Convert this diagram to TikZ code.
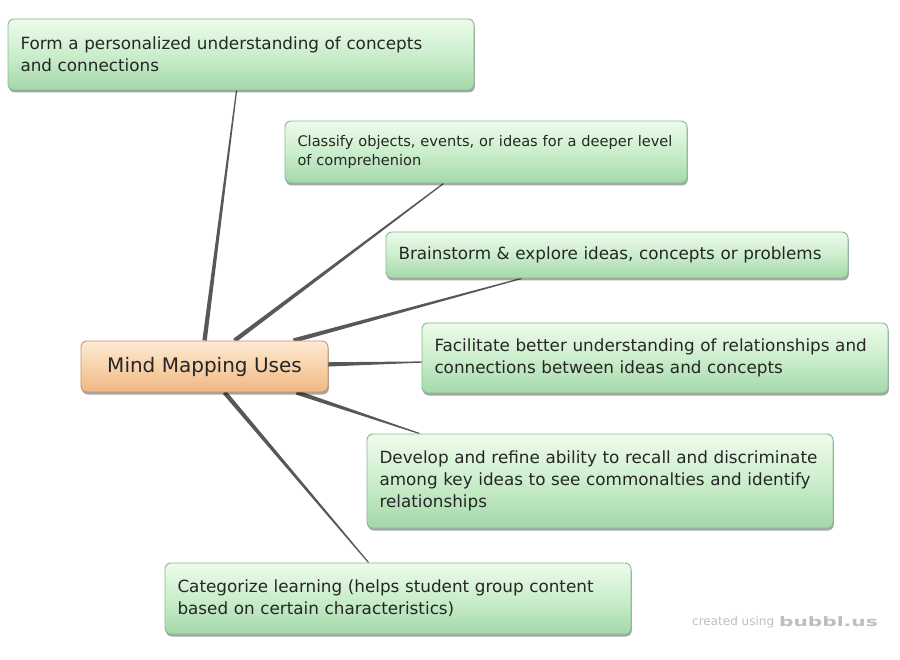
\documentclass[tikz,border=0pt]{standalone}
\usepackage{fontspec}
\setmainfont{DejaVu Sans}
\usetikzlibrary{calc,shadows}
\definecolor{gtop}{HTML}{EEFBEC}
\definecolor{gmid}{HTML}{CBEECC}
\definecolor{gbot}{HTML}{A4D8AA}
\definecolor{gline}{HTML}{86BC90}
\definecolor{otop}{HTML}{FDEAD5}
\definecolor{omid}{HTML}{F8D2AA}
\definecolor{obot}{HTML}{EFB885}
\definecolor{oline}{HTML}{C99560}
\definecolor{txt}{HTML}{262626}
\definecolor{conn}{HTML}{585858}
\definecolor{wm}{HTML}{BEBEBE}
\pgfdeclarelayer{links}
\pgfdeclarelayer{front}
\pgfsetlayers{main,links,front}
\tikzset{
  boxshadow/.style={drop shadow={shadow xshift=0.8pt,shadow yshift=-2.5pt,opacity=0.35,fill=black}},
  idea/.style={draw=gline, line width=0.9pt, rounded corners=6pt,
    top color=gtop, bottom color=gbot, middle color=gmid,
    text=txt, align=left, inner xsep=12.5pt, inner ysep=0pt,
    font=\fontsize{16.8}{22}\selectfont, boxshadow},
  hub/.style={draw=oline, line width=0.9pt, rounded corners=6pt,
    top color=otop, bottom color=obot, middle color=omid,
    text=txt, align=center, inner sep=0pt,
    font=\fontsize{20}{24}\selectfont, boxshadow},
  link/.style={fill=conn},
  wmark/.style={text=wm, anchor=west, inner sep=0pt}
}
\newcommand\taperlink[2]{%
  \fill[link] ($(#1)!2.2pt!90:(#2)$) -- ($(#2)!0.6pt!-90:(#1)$) --
    ($(#2)!0.6pt!90:(#1)$) -- ($(#1)!2.2pt!-90:(#2)$) -- cycle;}
\begin{document}
\begin{tikzpicture}[x=1pt,y=-1pt]
\useasboundingbox (0,0) rectangle (900,660);
\fill[white] (0,0) rectangle (900,660);

\begin{pgfonlayer}{front}
\node[hub, minimum width=247pt, minimum height=51pt] (m) at (204.5,366.5) {Mind Mapping Uses};

\node[idea, minimum width=466pt, minimum height=71pt, text width=441pt] (a) at (241,54.5)
  {Form a personalized understanding of concepts\\and connections};
\node[idea, minimum width=402pt, minimum height=62pt, text width=377pt,
      font=\fontsize{14.6}{19}\selectfont] (b) at (486,152)
  {Classify objects, events, or ideas for a deeper level\\of comprehenion};
\node[idea, minimum width=462pt, minimum height=46pt, text width=437pt] (c) at (617,255)
  {Brainstorm \& explore ideas, concepts or problems};
\node[idea, minimum width=466pt, minimum height=70pt, text width=441pt] (d) at (655,358)
  {Facilitate better understanding of relationships and\\connections between ideas and concepts};
\node[idea, minimum width=466pt, minimum height=94pt, text width=441pt] (e) at (600,481)
  {Develop and refine ability to recall and discriminate\\among key ideas to see commonalties and identify\\relationships};
\node[idea, minimum width=466pt, minimum height=71pt, text width=441pt] (f) at (398,598.5)
  {Categorize learning (helps student group content\\based on certain characteristics)};

\node[wmark, font=\fontsize{12}{14}\selectfont] (wm1) at (692,622) {created using};
\node[wmark, font=\bfseries\fontsize{13}{15}\selectfont] (wm2) at (779,622) {\scalebox{1.55}[1]{bubbl.us}};
\end{pgfonlayer}

\coordinate (sa) at ($(m.north west)+(124,0)$);
\coordinate (sb) at ($(m.north west)+(154,0)$);
\coordinate (sc) at ($(m.north west)+(213,0)$);
\coordinate (sd) at ($(m.east)+(-4,-2)$);
\coordinate (se) at ($(m.south west)+(216,0)$);
\coordinate (sf) at ($(m.south west)+(144,0)$);
\coordinate (ea) at ($(a.south west)+(229,0)$);
\coordinate (eb) at ($(b.south west)+(159,0)$);
\coordinate (ec) at ($(c.south west)+(136,0)$);
\coordinate (ed) at ($(d.west)+(2,4)$);
\coordinate (ee) at ($(e.north west)+(53,0)$);
\coordinate (ef) at ($(f.north west)+(204,0)$);

\begin{pgfonlayer}{links}
  \taperlink{sa}{ea}
  \taperlink{sb}{eb}
  \taperlink{sc}{ec}
  \taperlink{sd}{ed}
  \taperlink{se}{ee}
  \taperlink{sf}{ef}
\end{pgfonlayer}
\end{tikzpicture}
\end{document}
